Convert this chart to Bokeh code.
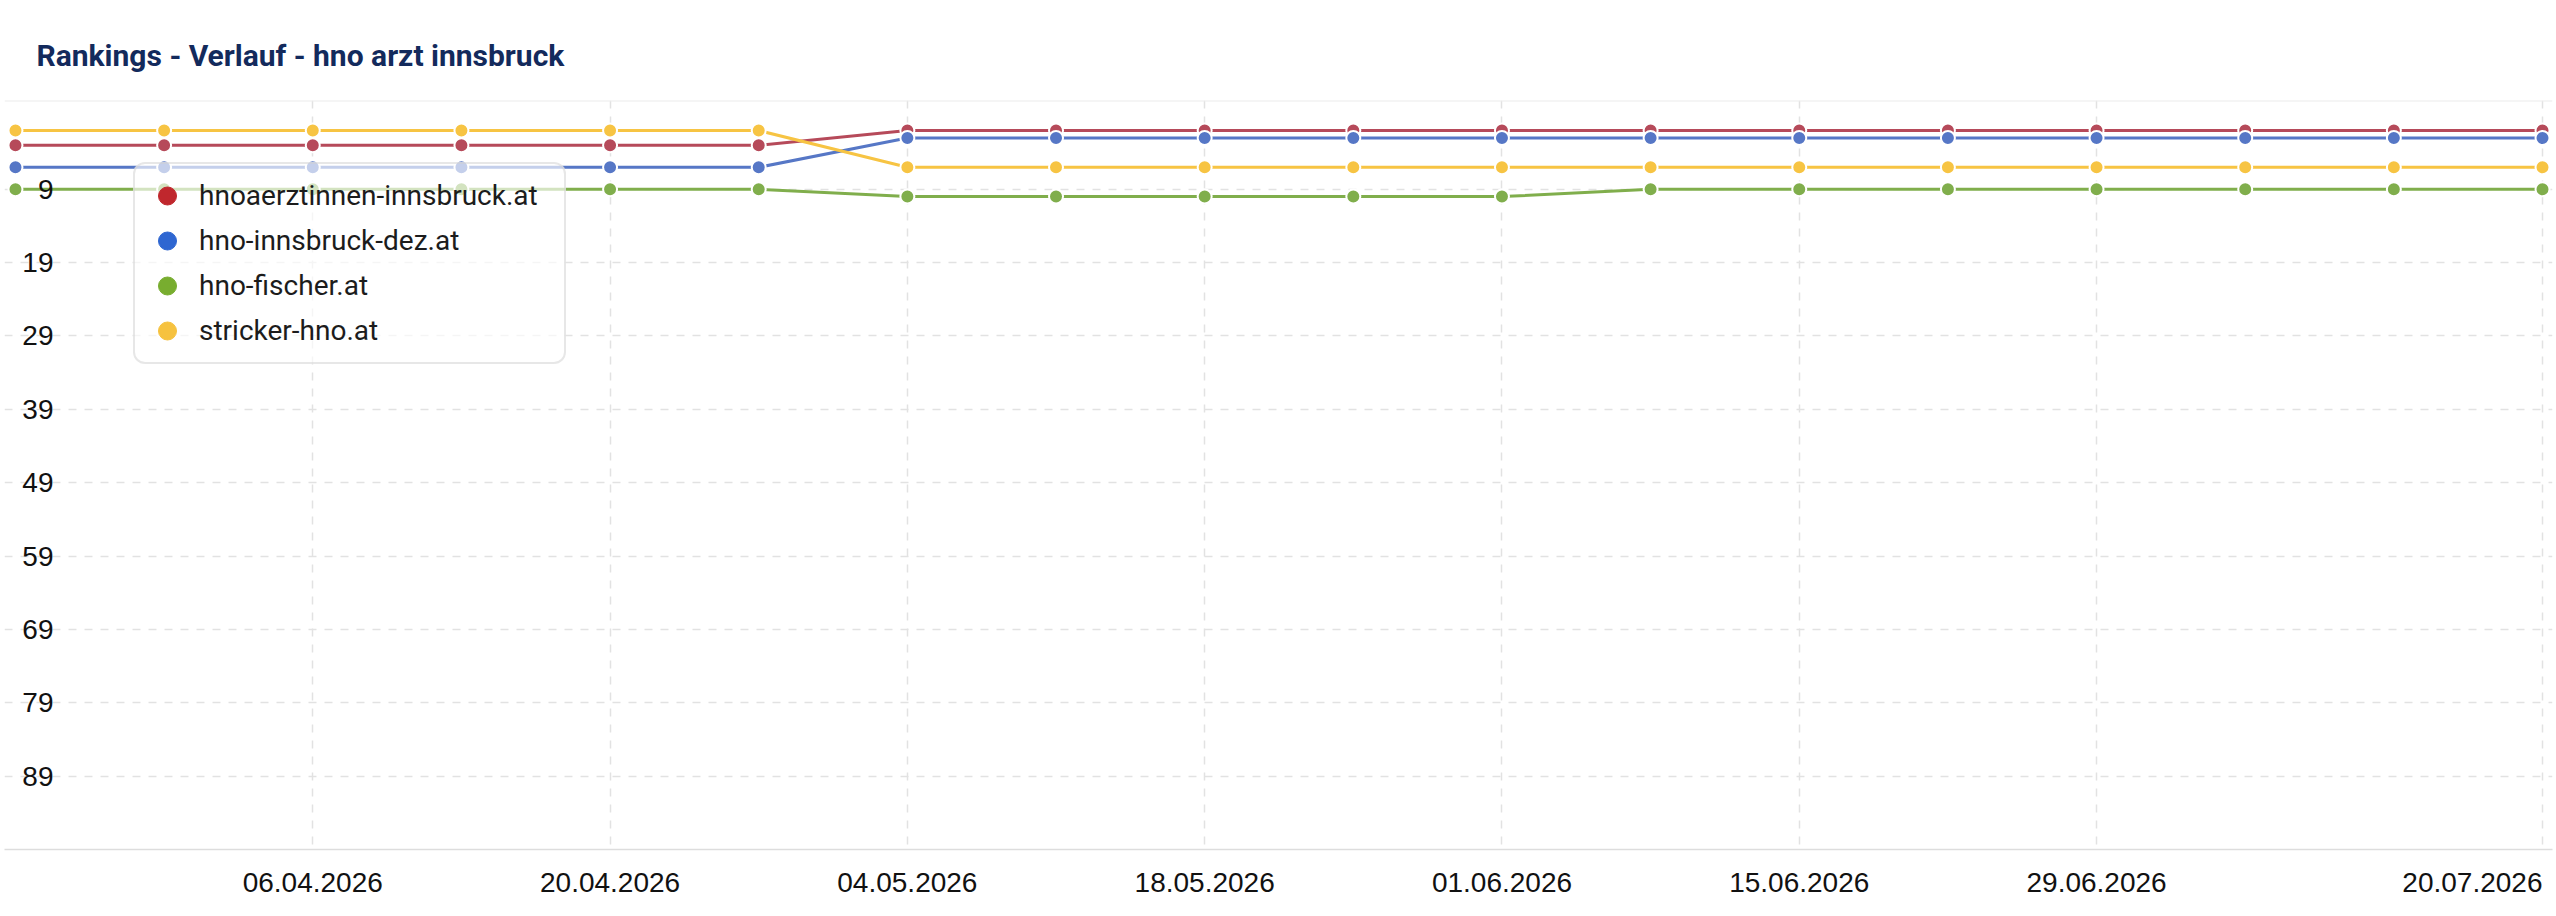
from datetime import datetime, timedelta
from bokeh.plotting import figure
from bokeh.models import (Range1d, FixedTicker, Legend, LegendItem, Span,
                          ColumnDataSource, DatetimeTickFormatter)
from bokeh.embed import file_html
from bokeh.resources import INLINE

# ---------------- data ----------------
dates = ["23.03.2026", "30.03.2026", "06.04.2026", "13.04.2026", "20.04.2026", "27.04.2026",
         "04.05.2026", "11.05.2026", "18.05.2026", "25.05.2026", "01.06.2026", "08.06.2026",
         "15.06.2026", "22.06.2026", "29.06.2026", "06.07.2026", "13.07.2026", "20.07.2026"]

series_names = ["hnoaerztinnen-innsbruck.at", "hno-innsbruck-dez.at", "hno-fischer.at", "stricker-hno.at"]
hnoaerztinnen = [3, 3, 3, 3, 3, 3, 1, 1, 1, 1, 1, 1, 1, 1, 1, 1, 1, 1]
hno_innsbruck_dez = [6, 6, 6, 6, 6, 6, 2, 2, 2, 2, 2, 2, 2, 2, 2, 2, 2, 2]
hno_fischer = [9, 9, 9, 9, 9, 9, 10, 10, 10, 10, 10, 9, 9, 9, 9, 9, 9, 9]
stricker_hno = [1, 1, 1, 1, 1, 1, 6, 6, 6, 6, 6, 6, 6, 6, 6, 6, 6, 6]

x_tick_labels = ["06.04.2026", "20.04.2026", "04.05.2026", "18.05.2026",
                 "01.06.2026", "15.06.2026", "29.06.2026", "20.07.2026"]
y_ticks = [9, 19, 29, 39, 49, 59, 69, 79, 89]

line_colors = ["#b64a5a", "#5677c6", "#80ae4c", "#f7c443"]
legend_colors = ["#c0272d", "#2e66d1", "#78ad2f", "#f6c23f"]

# ---------------- helpers ----------------
def to_dt(s):
    return datetime.strptime(s, "%d.%m.%Y")

def to_ms(s):
    return (to_dt(s) - datetime(1970, 1, 1)).total_seconds() * 1000.0

x_dates = [to_dt(d) for d in dates]
DAY_MS = 86400000.0

W, H = 2556, 916
p = figure(width=W, height=H, output_backend="svg", toolbar_location=None,
           x_axis_type="datetime",
           x_range=Range1d(x_dates[0] - timedelta(hours=12.4), x_dates[-1] + timedelta(hours=11.3)),
           y_range=Range1d(99, -3.1),
           min_border_left=4, min_border_right=4, min_border_top=100, min_border_bottom=67)

p.background_fill_color = "white"
p.border_fill_color = "white"
p.outline_line_color = None

# title
p.title.text = "Rankings - Verlauf - hno arzt innsbruck"
p.title.text_font = "Roboto"
p.title.text_font_style = "bold"
p.title.text_font_size = "30px"
p.title.text_color = "#132a5c"
p.title.align = "left"
p.title.offset = 32
p.title.standoff = 55

# separator under title
p.add_layout(Span(location=-3.1, dimension="width", line_color="#ebebeb", line_width=2))

# grids
grid_ticks = [to_ms(d) for d in x_tick_labels]
p.xgrid.ticker = FixedTicker(ticks=grid_ticks)
p.ygrid.ticker = FixedTicker(ticks=y_ticks)
for g in (p.xgrid, p.ygrid):
    g.grid_line_color = "#e2e2e2"
    g.grid_line_width = 1.5
    g.grid_line_dash = "8 8"

# x axis; the last label is kept inside the plot (right-aligned to its date)
last_label_anchor = grid_ticks[-1] - 3.3 * DAY_MS
xa = p.xaxis[0]
xa.ticker = FixedTicker(ticks=grid_ticks[:-1] + [last_label_anchor])
fmt = "%d.%m.%Y"
xa.formatter = DatetimeTickFormatter(days=fmt, months=fmt, years=fmt, hours=fmt, minutes=fmt,
                                     seconds=fmt, milliseconds=fmt, minsec=fmt, hourmin=fmt)
xa.major_label_overrides = {last_label_anchor: x_tick_labels[-1]}
xa.axis_line_color = "#dddddd"
xa.axis_line_width = 1.5
xa.major_tick_line_color = None
xa.minor_tick_line_color = None
xa.major_label_text_font = "Liberation Sans"
xa.major_label_text_font_size = "28px"
xa.major_label_text_color = "#111111"
xa.major_label_standoff = 17

# y axis: labels drawn inside plot area
ya = p.yaxis[0]
ya.ticker = FixedTicker(ticks=y_ticks)
ya.axis_line_color = None
ya.major_tick_line_color = None
ya.minor_tick_line_color = None
ya.major_label_text_font = "Liberation Sans"
ya.major_label_text_font_size = "28px"
ya.major_label_text_color = "#111111"
ya.major_label_standoff = -55

# series
all_series = [hnoaerztinnen, hno_innsbruck_dez, hno_fischer, stricker_hno]
for vals, c in zip(all_series, line_colors):
    src = ColumnDataSource(dict(x=x_dates, y=vals))
    p.line("x", "y", source=src, line_color=c, line_width=3)
    p.scatter("x", "y", source=src, size=14, fill_color=c, line_color="white", line_width=2)

# legend (dot markers only; these renderers have no visible point in the plot)
items = []
nan = float("nan")
for name, c in zip(series_names, legend_colors):
    r = p.scatter(x=[nan], y=[nan], size=18, fill_color=c, line_color=c)
    items.append(LegendItem(label=name, renderers=[r]))

legend = Legend(items=items, location=(129, 485), orientation="vertical",
                glyph_width=46, glyph_height=45, spacing=0, padding=9,
                label_standoff=9, label_width=356, label_height=45,
                label_text_font="Roboto", label_text_font_size="28px",
                label_text_color="#1c1c1c",
                border_line_color="#cfcfcf", border_line_width=2,
                background_fill_color="white", background_fill_alpha=0.65)
if "border_radius" in Legend.properties():
    legend.border_radius = 12
p.add_layout(legend)

open("out.html", "w").write(file_html(p, INLINE))
